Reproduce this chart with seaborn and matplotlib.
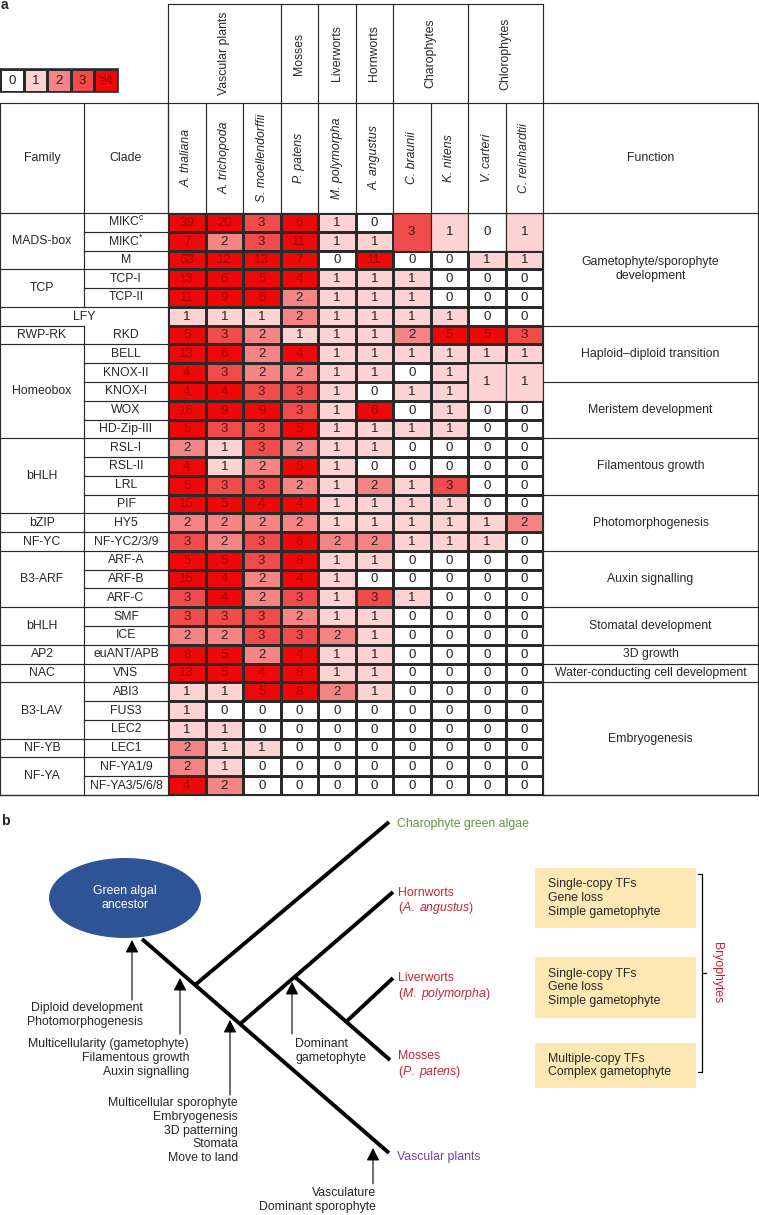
import numpy as np
import matplotlib
matplotlib.use('Agg')
import matplotlib.pyplot as plt
from matplotlib.colors import ListedColormap
from matplotlib.patches import Rectangle, Ellipse
import seaborn as sns

sns.set_style('white')
plt.rcParams['font.family'] = ['Liberation Sans', 'DejaVu Sans']
plt.rcParams['mathtext.fontset'] = 'custom'
plt.rcParams['mathtext.rm'] = 'Liberation Sans'
plt.rcParams['mathtext.it'] = 'Liberation Sans:italic'
plt.rcParams['mathtext.bf'] = 'Liberation Sans:bold'

# ---- data (panel a) ----
groups = ['Vascular plants', 'Mosses', 'Liverworts', 'Hornworts', 'Charophytes', 'Chlorophytes']
group_span = [3, 1, 1, 1, 2, 2]
species = ['A. thaliana', 'A. trichopoda', 'S. moellendorffii', 'P. patens', 'M. polymorpha',
           'A. angustus', 'C. braunii', 'K. nitens', 'V. carteri', 'C. reinhardtii']
clades = ['MIKC$^\\mathregular{c}$', 'MIKC$^\\mathregular{*}$', 'M', 'TCP-I', 'TCP-II', 'LFY', 'RKD',
          'BELL', 'KNOX-II', 'KNOX-I', 'WOX', 'HD-Zip-III', 'RSL-I', 'RSL-II', 'LRL', 'PIF',
          'HY5', 'NF-YC2/3/9', 'ARF-A', 'ARF-B', 'ARF-C', 'SMF', 'ICE', 'euANT/APB', 'VNS',
          'ABI3', 'FUS3', 'LEC2', 'LEC1', 'NF-YA1/9', 'NF-YA3/5/6/8']
families = ['MADS-box', 'TCP', 'LFY', 'RWP-RK', 'Homeobox', 'bHLH', 'bZIP', 'NF-YC', 'B3-ARF',
            'bHLH', 'AP2', 'NAC', 'B3-LAV', 'NF-YB', 'NF-YA']
family_span = [3, 2, 1, 1, 5, 4, 1, 1, 3, 2, 1, 1, 3, 1, 2]
functions = ['Gametophyte/sporophyte\ndevelopment', 'Haploid\u2013diploid transition',
             'Meristem development', 'Filamentous growth', 'Photomorphogenesis',
             'Auxin signalling', 'Stomatal development', '3D growth',
             'Water-conducting cell development', 'Embryogenesis']
function_span = [6, 3, 3, 3, 3, 3, 2, 1, 1, 6]

nan = np.nan
counts = np.array([
    [39, 20, 3, 6, 1, 0, nan, nan, nan, nan],
    [7, 2, 3, 11, 1, 1, nan, nan, nan, nan],
    [63, 12, 13, 7, 0, 11, 0, 0, 1, 1],
    [13, 6, 5, 4, 1, 1, 1, 0, 0, 0],
    [11, 9, 5, 2, 1, 1, 1, 0, 0, 0],
    [1, 1, 1, 2, 1, 1, 1, 1, 0, 0],
    [5, 3, 2, 1, 1, 1, 2, 5, 5, 3],
    [13, 6, 2, 4, 1, 1, 1, 1, 1, 1],
    [4, 3, 2, 2, 1, 1, 0, 1, nan, nan],
    [4, 4, 3, 3, 1, 0, 1, 1, nan, nan],
    [16, 9, 9, 3, 1, 6, 0, 1, 0, 0],
    [5, 3, 3, 5, 1, 1, 1, 1, 0, 0],
    [2, 1, 3, 2, 1, 1, 0, 0, 0, 0],
    [4, 1, 2, 5, 1, 0, 0, 0, 0, 0],
    [5, 3, 3, 2, 1, 2, 1, 3, 0, 0],
    [15, 5, 4, 4, 1, 1, 1, 1, 0, 0],
    [2, 2, 2, 2, 1, 1, 1, 1, 1, 2],
    [3, 2, 3, 6, 2, 2, 1, 1, 1, 0],
    [5, 5, 3, 8, 1, 1, 0, 0, 0, 0],
    [15, 4, 2, 4, 1, 0, 0, 0, 0, 0],
    [3, 4, 2, 3, 1, 3, 1, 0, 0, 0],
    [3, 3, 3, 2, 1, 1, 0, 0, 0, 0],
    [2, 2, 3, 3, 2, 1, 0, 0, 0, 0],
    [8, 5, 2, 4, 1, 1, 0, 0, 0, 0],
    [13, 5, 4, 8, 1, 1, 0, 0, 0, 0],
    [1, 1, 5, 8, 2, 1, 0, 0, 0, 0],
    [1, 0, 0, 0, 0, 0, 0, 0, 0, 0],
    [1, 1, 0, 0, 0, 0, 0, 0, 0, 0],
    [2, 1, 1, 0, 0, 0, 0, 0, 0, 0],
    [2, 1, 0, 0, 0, 0, 0, 0, 0, 0],
    [4, 2, 0, 0, 0, 0, 0, 0, 0, 0],
])
# cells shared by two clades (row, col, value)
merged_row = [0, 0, 0, 0, 8, 8]
merged_col = [6, 7, 8, 9, 8, 9]
merged_val = [3, 1, 0, 1, 1, 1]

legend_vals = [0, 1, 2, 3, 4]
legend_labels = ['0', '1', '2', '3', '\u22654']

# ---- layout ----
W, H = 759, 1215
X0, X1, Y0, Y1 = 168, 543, 213, 795
XF, XR, YG, YH = 84, 758, 4, 103
LC, LW = '#2a2a2a', 0.85
FS = 8.8
NFS = 9.6
cw = (X1 - X0) / len(species)
rh = (Y1 - Y0) / len(clades)

colors = ['#ffffff', '#fdd2d2', '#f58585', '#f14c4c', '#ee0808']
cmap = ListedColormap(colors)


def txt_color(v):
    if v >= 4:
        return '#a30000'
    if v == 3:
        return '#5a1010'
    return '#222222'


fig = plt.figure(figsize=(W / 100, H / 100), dpi=100, facecolor='white')

# heat map cells
hax = fig.add_axes([X0 / W, 1 - Y1 / H, (X1 - X0) / W, (Y1 - Y0) / H])
sns.heatmap(np.minimum(counts, 4), mask=np.isnan(counts), cmap=cmap, vmin=-0.5, vmax=4.5,
            cbar=False, linewidths=LW, linecolor=LC, xticklabels=False, yticklabels=False, ax=hax)
for r, c in np.argwhere(~np.isnan(counts)):
    v = int(counts[r, c])
    hax.text(c + 0.5, r + 0.52, str(v), ha='center', va='center', fontsize=NFS, color=txt_color(v))
for r, c, v in zip(merged_row, merged_col, merged_val):
    hax.add_patch(Rectangle((c, r), 1, 2, facecolor=cmap(min(v, 4)), edgecolor=LC, lw=LW))
    hax.text(c + 0.5, r + 1.02, str(v), ha='center', va='center', fontsize=NFS, color=txt_color(v))

# legend strip
lax = fig.add_axes([0 / W, 1 - 92 / H, 118 / W, 23 / H])
sns.heatmap([legend_vals], cmap=cmap, vmin=-0.5, vmax=4.5, cbar=False, linewidths=LW,
            linecolor=LC, annot=[legend_labels], fmt='', xticklabels=False, yticklabels=False,
            annot_kws={'fontsize': NFS}, ax=lax)
for t, v in zip(lax.texts, legend_vals):
    t.set_color(txt_color(v))
lax.add_patch(Rectangle((0, 0), 5, 1, fill=False, edgecolor=LC, lw=1.2, clip_on=False))

# overlay for table frame and panel b
ax = fig.add_axes([0, 0, 1, 1], zorder=3)
ax.set_xlim(0, W)
ax.set_ylim(H, 0)
ax.axis('off')


def hl(y, x0, x1):
    ax.plot([x0, x1], [y, y], color=LC, lw=LW, solid_capstyle='projecting')


def vl(x, y0, y1):
    ax.plot([x, x], [y0, y1], color=LC, lw=LW, solid_capstyle='projecting')


# group header
hl(YG, X0, X1)
edges = X0 + cw * np.concatenate([[0], np.cumsum(group_span)])
for x in edges:
    vl(x, YG, YH)
for g, a, b in zip(groups, edges[:-1], edges[1:]):
    ax.text((a + b) / 2, (YG + YH) / 2, g, rotation=90, ha='center', va='center', fontsize=FS)

# species header
hl(YH, 0, XR)
hl(Y0, 0, XR)
hl(Y1, 0, XR)
for i, s in enumerate(species):
    vl(X0 + i * cw, YH, Y0)
    ax.text(X0 + (i + 0.5) * cw, (YH + Y0) / 2, s, rotation=90, ha='center', va='center',
            fontsize=FS, style='italic')
for x in [0, X0, X1, XR]:
    vl(x, YH, Y1)
ax.text(XF / 2, (YH + Y0) / 2, 'Family', ha='center', va='center', fontsize=FS)
ax.text((XF + X0) / 2, (YH + Y0) / 2, 'Clade', ha='center', va='center', fontsize=FS)
ax.text((X1 + XR) / 2, (YH + Y0) / 2, 'Function', ha='center', va='center', fontsize=FS)
vl(XF, YH, Y0)

# family / clade columns
row = 0
for fam, n in zip(families, family_span):
    y0, y1 = Y0 + row * rh, Y0 + (row + n) * rh
    hl(y1, 0, XF)
    if n == 1 and fam == clades[row]:
        ax.text(X0 / 2, (y0 + y1) / 2 + 1, fam, ha='center', va='center', fontsize=FS)
    else:
        vl(XF, y0, y1)
        ax.text(XF / 2, (y0 + y1) / 2, fam, ha='center', va='center', fontsize=FS)
        for k in range(n):
            ax.text((XF + X0) / 2, y0 + (k + 0.5) * rh, clades[row + k], ha='center',
                    va='center', fontsize=FS)
            hl(y0 + (k + 1) * rh, XF, X0)
    row += n

# function column
row = 0
for fn, n in zip(functions, function_span):
    y0, y1 = Y0 + row * rh, Y0 + (row + n) * rh
    hl(y1, X1, XR)
    ax.text((X1 + XR) / 2, (y0 + y1) / 2, fn, ha='center', va='center', fontsize=FS,
            linespacing=1.25)
    row += n

ax.text(1, -2, 'a', fontsize=10, fontweight='bold', va='top')
ax.text(1, 821, 'b', fontsize=10, fontweight='bold', va='center')

# ---- panel b : schematic tree ----
TLW = 2.8
branches = [
    [(142, 939), (389, 1153)],   # trunk to vascular plants
    [(195, 985), (389, 822)],    # charophytes
    [(240, 1024), (393, 892)],   # hornworts
    [(295, 977), (390, 1060)],   # mosses
    [(347, 1021), (393, 978)],   # liverworts
]
for (xa, ya), (xb, yb) in branches:
    ax.plot([xa, xb], [ya, yb], color='black', lw=TLW, solid_capstyle='butt')

ax.add_patch(Ellipse((125, 898), 152, 80, facecolor='#2f5496', edgecolor='none'))
ax.text(125, 898, 'Green algal\nancestor', color='white', ha='center', va='center',
        fontsize=FS, linespacing=1.25)

red, green, purple = '#c6242f', '#62943f', '#7a3fa6'
ax.text(397, 824, 'Charophyte green algae', color=green, ha='left', va='center', fontsize=FS)
taxa = [('Hornworts', 'A.\\ angustus', 893), ('Liverworts', 'M.\\ polymorpha', 978),
        ('Mosses', 'P.\\ patens', 1056)]
for name, sp, y in taxa:
    ax.text(398, y, name, color=red, ha='left', va='center', fontsize=FS)
    ax.text(398, y + 15.5, '$(\\mathit{' + sp + '})$', color=red, ha='left', va='center',
            fontsize=FS)
ax.text(397, 1157, 'Vascular plants', color=purple, ha='left', va='center', fontsize=FS)

arrows = [
    (132, 940, 1000, 143, 1002, 'right', 'Diploid development\nPhotomorphogenesis'),
    (180, 978, 1034, 189, 1038, 'right',
     'Multicellularity (gametophyte)\nFilamentous growth\nAuxin signalling'),
    (230, 1020, 1095, 238, 1097, 'right',
     'Multicellular sporophyte\nEmbryogenesis\n3D patterning\nStomata\nMove to land'),
    (292, 982, 1034, 295, 1038, 'left', 'Dominant\ngametophyte'),
    (373, 1148, 1184, 376, 1187, 'right', 'Vasculature\nDominant sporophyte'),
]
for x, tip, tail, tx, ty, ha, txt in arrows:
    ax.annotate('', xy=(x, tip), xytext=(x, tail),
                arrowprops=dict(arrowstyle='-|>,head_length=0.55,head_width=0.28',
                                color='black', lw=0.8, mutation_scale=14, shrinkA=0, shrinkB=0))
    ax.text(tx, ty, txt, ha=ha, va='top', fontsize=FS, multialignment=ha, linespacing=1.2)

box_color = '#fde7b2'
boxes = [
    (868, 928, 'Single-copy TFs\nGene loss\nSimple gametophyte'),
    (957, 1018, 'Single-copy TFs\nGene loss\nSimple gametophyte'),
    (1043, 1088, 'Multiple-copy TFs\nComplex gametophyte'),
]
for y0, y1, txt in boxes:
    ax.add_patch(Rectangle((535, y0), 161, y1 - y0, facecolor=box_color, edgecolor='none'))
    ax.text(548, (y0 + y1) / 2, txt, ha='left', va='center', fontsize=FS, linespacing=1.2)

ax.plot([698, 702, 702, 698], [874, 874, 1072, 1072], color='black', lw=0.9)
ax.plot([702, 706], [973, 973], color='black', lw=0.9)
ax.text(717, 973, 'Bryophytes', rotation=-90, color=red, ha='center', va='center', fontsize=FS)

fig.savefig('out.png', dpi=100, facecolor='white')
